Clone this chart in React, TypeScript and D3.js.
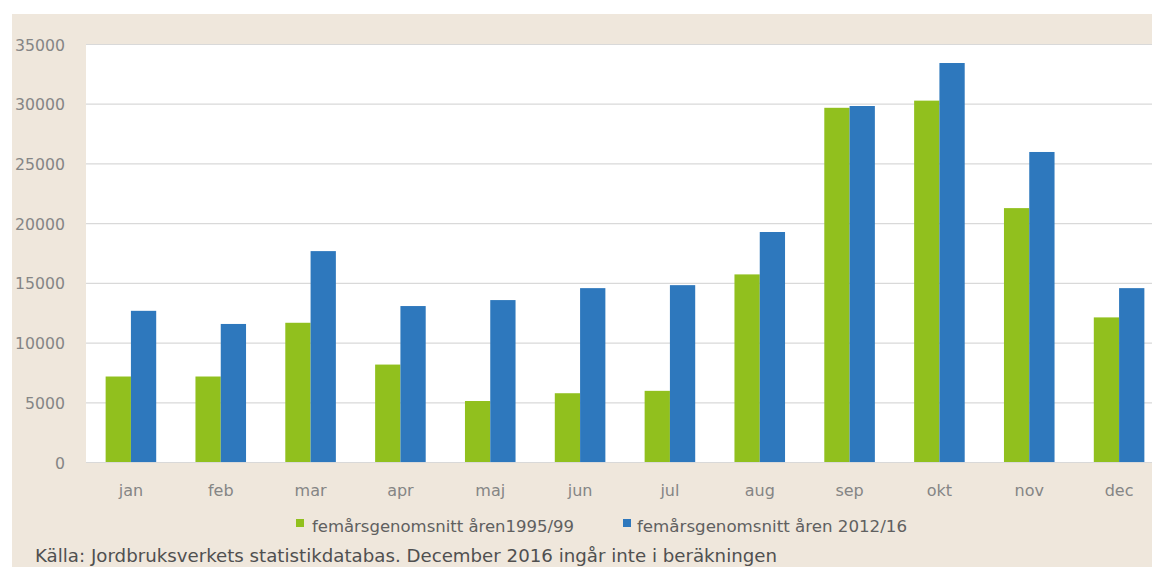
import React from "react";
import * as d3 from "d3";

const months = ["jan", "feb", "mar", "apr", "maj", "jun", "jul", "aug", "sep", "okt", "nov", "dec"];
const avg1995_99 = [7200, 7200, 11700, 8200, 5150, 5800, 6000, 15750, 29700, 30300, 21300, 12150];
const avg2012_16 = [12700, 11600, 17700, 13100, 13600, 14600, 14850, 19300, 29850, 33450, 26000, 14600];
const yTicks = [0, 5000, 10000, 15000, 20000, 25000, 30000, 35000];
const seriesNames = ["femårsgenomsnitt åren1995/99", "femårsgenomsnitt åren 2012/16"];
const sourceText = "Källa: Jordbruksverkets statistikdatabas. December  2016 ingår inte i beräkningen";

const W = 1152;
const H = 567;
const GREEN = "#91c01e";
const BLUE = "#2e78bd";
const BEIGE = "#efe7dc";
const FONT = "'DejaVu Sans', sans-serif";

export default function App() {
  const plotLeft = 86;
  const plotRight = 1164;
  const plotTop = 44.5;
  const plotBottom = 462.5;

  const x = d3.scaleBand<string>().domain(months).range([plotLeft, plotRight]).paddingInner(0.437).paddingOuter(0.2185);
  const xs = d3.scaleBand<string>().domain(["a", "b"]).range([0, x.bandwidth()]);
  const y = d3.scaleLinear().domain([0, 35000]).range([plotBottom, plotTop]);

  return (
    <svg width={W} height={H} style={{ position: "absolute", left: 0, top: 0, display: "block" }}>
      <rect x={0} y={0} width={W} height={H} fill="#ffffff" />
      <rect x={12} y={14} width={W - 12} height={H - 14} fill={BEIGE} />
      <rect x={plotLeft} y={plotTop} width={W - plotLeft} height={plotBottom - plotTop} fill="#ffffff" />
      {yTicks.map((t) => (
        <g key={t}>
          <line x1={plotLeft} x2={W} y1={y(t)} y2={y(t)} stroke="#d9d9d9" strokeWidth={1.2} />
          <text x={65} y={y(t) + 6} textAnchor="end" fontFamily={FONT} fontSize={15.5} fill="#858585"
            textLength={String(t).length * 10} lengthAdjust="spacingAndGlyphs">
            {t}
          </text>
        </g>
      ))}
      {months.map((m, i) => (
        <g key={m}>
          <rect x={(x(m) as number) + (xs("a") as number)} y={y(avg1995_99[i])} width={xs.bandwidth()} height={plotBottom - y(avg1995_99[i])} fill={GREEN} />
          <rect x={(x(m) as number) + (xs("b") as number)} y={y(avg2012_16[i])} width={xs.bandwidth()} height={plotBottom - y(avg2012_16[i])} fill={BLUE} />
          <text x={(x(m) as number) + x.bandwidth() / 2} y={496} textAnchor="middle" fontFamily={FONT} fontSize={16} fill="#858585">
            {m}
          </text>
        </g>
      ))}
      <line x1={plotLeft} x2={W} y1={plotBottom} y2={plotBottom} stroke="#d9d9d9" strokeWidth={1.2} />
      <rect x={296} y={519} width={8} height={8} fill={GREEN} />
      <text x={312} y={531.5} fontFamily={FONT} fontSize={16} fill="#606060" textLength={262} lengthAdjust="spacingAndGlyphs">{seriesNames[0]}</text>
      <rect x={623} y={519} width={8} height={8} fill={BLUE} />
      <text x={637} y={531.5} fontFamily={FONT} fontSize={16} fill="#606060" textLength={270} lengthAdjust="spacingAndGlyphs">{seriesNames[1]}</text>
      <text x={35} y={561.5} fontFamily={FONT} fontSize={17} fill="#505050" textLength={742} lengthAdjust="spacingAndGlyphs">{sourceText}</text>
    </svg>
  );
}
